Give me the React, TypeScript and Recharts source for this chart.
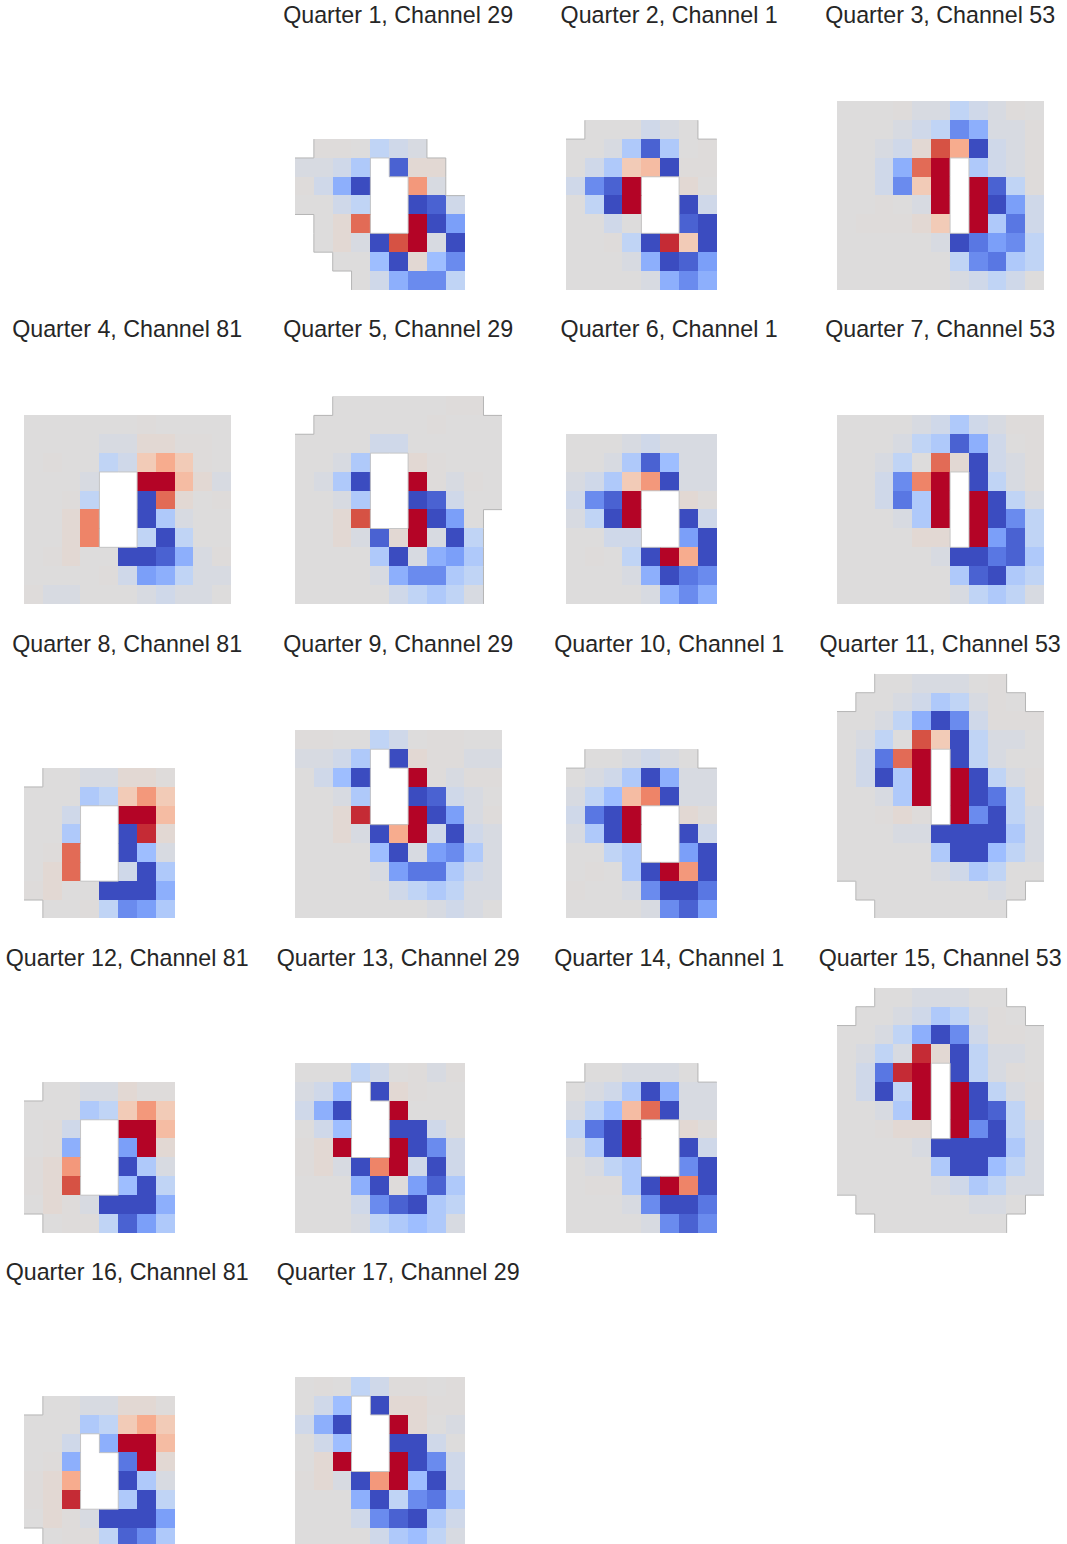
import { Scatter, ScatterChart, XAxis, YAxis } from "recharts";

// every panel is read top-down and sits on the bottom of its axes
// ' ' = outside the mask, '.' = hole in the middle, the letters are steps on the colormap
const q1 = [" ll0ijk  ", "kkjh.bmm ", "ljfa..qk ", "00ji..abj", " 0ms..vae", " 0mkatvka", "  00gamgd", "   0jfddi"];
const q2 = [" 000jk0 ", "00khbh0l", "0jhnoall", "jdbv..m0", "0iav..aj", "00j0..ba", "00liauna", "000kfabe", "0000kfdf"];
const q3 = ["000lkkijkl0", "000kjidfkkl", "00kjmtpajkl", "00jfsv.hjkl", "00jdnv.vbil", "00l0kv.vaej", "0lllmn.vhcj", "00000kacedi", "000000idchi", "000000kjij0"];
const q4 = ["000000l0000", "0000kkmmll0", "0l00ijnpnl0", "000k..vvomk", "00li..asm0l", "00mr..ahk00", "00mr..iai00", "0lm00aabfkl", "0000ljefikk", "lkk000kjkk0"];
const q5 = ["  000000ll ", " 000000l000", "0000jj00000", "00kh..ml000", "0kha..vlkl0", "00kh..abj00", "00mt..vae0 ", "00mkbmvkai ", "0000hakfeh ", "0000kfddhi ", "00000jihik "];
const q6 = ["000kjkkk", "00khbgkk", "kjhnqakk", "jdbv..ml", "kiav..aj", "00jj..ea", "0l0iavpa", "000kfacd", "0000kfdf"];
const q7 = ["0000kjhjkll", "000kihbfj0l", "00ki0smajkl", "00jdrv.aikl", "00jchv.vaik", "000khv.vadi", "0000mm.vebi", "00000kaacbh", "000000hbahi", "000000kihik"];
const q8 = [" 00kkmml", "000hinqn", "00j..vvo", "00h..aum", "0ls..agk", "0ms..jah", "lm00aaaf", " 00lideh"];
const q9 = ["ll00ij0ll00", "kkjh.amllkk", "0jga..vlkll", "00kh..abjk0", "00mu..vaekl", "00mkapvjajk", "0000gakedhk", "0000kecchjk", "00000jihikk", "0000000kjk0"];
const q10 = [" 00kjk0 ", "0kjhafkk", "kigorakk", "jcav..ml", "khav..aj", "00ih..ea", "0l0havqa", "l00kdaac", "0000kdbe"];
const q11 = ["  00kkk0l  ", " 00kjhikl0 ", "00kifadjlll", "0ki0tnaikk0", "0jcsv.aik00", "0jahv.vaikl", "00khv.vacil", "00lml.vdaik", "000kkaaaahk", "00000haagik", "00000kjhi00", " 0000000k0 ", "  0000000  "];
const q12 = [" 00kkmll", "000hinqn", "0lj..vvo", "0lf..evm", "lmq..ahk", "lmt..gai", "0mlkaaaf", " 0llibeh"];
const q13 = ["000ij0lkl", "kjg.aml00", "jfa..v000", "0jg..aaj0", "lmv..vadj", "lmkarvjaj", "000falebh", "000jdbahi", "000kihghk"];
const q14 = [" 00kkk0 ", "0kjhafkk", "kigosakk", "icav..ml", "khav..aj", "0kih..da", "0llhavra", "000kdaac", "0000kdbd"];
const q15 = ["  00kkk00  ", " 00kjhikl0 ", "00kifadjll0", "0kikumaikk0", "0jcuv.aikl0", "0jaiv.vaikl", "00khv.vabil", "00lmm.vdaik", "0000kaaaahk", "00000haagik", "00000kjhikk", " 000000kk0 ", "  0000000  "];
const q16 = [" 00kkmml", "000hinpn", "00j.fvvo", "0lf..cvm", "lmp..ahk", "lmu..hai", "0mlkaaae", " 0llibdh"];
const q17 = ["0l0ijll0l", "0jg.ammll", "jfa..vm0k", "0jg..aaj0", "0mv..vadj", "lmkaqvgaj", "000faidch", "000jdbahj", "0000jhgik"];

const quarters = [q1, q2, q3, q4, q5, q6, q7, q8, q9, q10, q11, q12, q13, q14, q15, q16, q17];
const channels = [29, 1, 53, 81];

const LEVELS: Record<string, number> = {
  a: 0, b: 0.05, c: 0.1, d: 0.15, e: 0.2, f: 0.25, g: 0.3, h: 0.35, i: 0.4, j: 0.45, k: 0.48,
  "0": 0.5, l: 0.505, m: 0.525, n: 0.6, o: 0.65, p: 0.7, q: 0.75, r: 0.8, s: 0.85, t: 0.9, u: 0.95, v: 1,
};

const COOLWARM = [
  [59, 76, 192], [89, 119, 227], [123, 159, 249], [158, 190, 255], [192, 212, 245], [221, 220, 220],
  [242, 203, 183], [247, 172, 142], [238, 132, 104], [214, 82, 68], [180, 4, 38],
];

const CELL = 18.85;
const COLS = 11;
const ROWS = 14;
const LEFTS = [24, 295, 566, 837];
const BOTTOMS = [290, 604.25, 918.5, 1232.75, 1547];

function coolwarm(t: number) {
  const pos = Math.min(t * 10, 9.999);
  const i = Math.floor(pos);
  const f = pos - i;
  const [r, g, b] = COOLWARM[i].map((v, k) => Math.round(v + (COOLWARM[i + 1][k] - v) * f));
  return `rgb(${r},${g},${b})`;
}

const isGap = (ch?: string) => ch === " " || ch === ".";

function buildCells(rows: string[]) {
  const cells: any[] = [];
  rows.forEach((line, r) => {
    line.split("").forEach((ch, c) => {
      if (isGap(ch)) return;
      const around = { top: rows[r - 1]?.[c], bottom: rows[r + 1]?.[c], left: line[c - 1], right: line[c + 1] };
      cells.push({ x: c + 0.5, y: rows.length - r - 0.5, value: LEVELS[ch], around });
    });
  });
  return cells;
}

function CellShape(props: any) {
  const { cx, cy, payload } = props;
  const s = CELL + 0.3;
  return <rect x={cx - s / 2} y={cy - s / 2} width={s} height={s} fill={coolwarm(payload.value)} shapeRendering="crispEdges" />;
}

function EdgeShape(props: any) {
  const { cx, cy, payload } = props;
  const h = CELL / 2;
  const sides: Record<string, string> = {
    top: `M${cx - h} ${cy - h}H${cx + h}`,
    bottom: `M${cx - h} ${cy + h}H${cx + h}`,
    left: `M${cx - h} ${cy - h}V${cy + h}`,
    right: `M${cx + h} ${cy - h}V${cy + h}`,
  };
  return (
    <g>
      {Object.keys(sides).map((side) => {
        const ch = payload.around[side];
        if (!isGap(ch)) return null;
        return <path key={side} d={sides[side]} fill="none" stroke={ch === " " ? "#b6b6b6" : "#c6c6c6"} strokeWidth={1} />;
      })}
    </g>
  );
}

function Panel({ index }: { index: number }) {
  const quarter = index + 1;
  const col = quarter % 4;
  const row = Math.floor(quarter / 4);
  const cells = buildCells(quarters[index]);
  const width = CELL * COLS;
  const height = CELL * ROWS;
  return (
    <div style={{ position: "absolute", left: LEFTS[col], top: BOTTOMS[row] - height, width, height }}>
      <div
        style={{
          position: "absolute",
          left: -31,
          right: -30,
          top: -24,
          textAlign: "center",
          fontFamily: "'Liberation Sans', Arial, sans-serif",
          fontSize: 23.25,
          lineHeight: "26px",
          color: "#262626",
          whiteSpace: "nowrap",
        }}
      >
        {`Quarter ${quarter}, Channel ${channels[index % 4]}`}
      </div>
      <ScatterChart width={width} height={height} margin={{ top: 0, right: 0, bottom: 0, left: 0 }} style={{ position: "absolute", left: 0, top: 0 }}>
        <XAxis type="number" dataKey="x" domain={[0, COLS]} hide />
        <YAxis type="number" dataKey="y" domain={[0, ROWS]} hide />
        <Scatter data={cells} isAnimationActive={false} shape={CellShape} />
        <Scatter data={cells} isAnimationActive={false} shape={EdgeShape} />
      </ScatterChart>
    </div>
  );
}

export default function App() {
  return (
    <div style={{ position: "absolute", left: 0, top: 0, width: 1067, height: 1544, overflow: "hidden", background: "#fff" }}>
      {quarters.map((_, i) => (
        <Panel key={i} index={i} />
      ))}
    </div>
  );
}
